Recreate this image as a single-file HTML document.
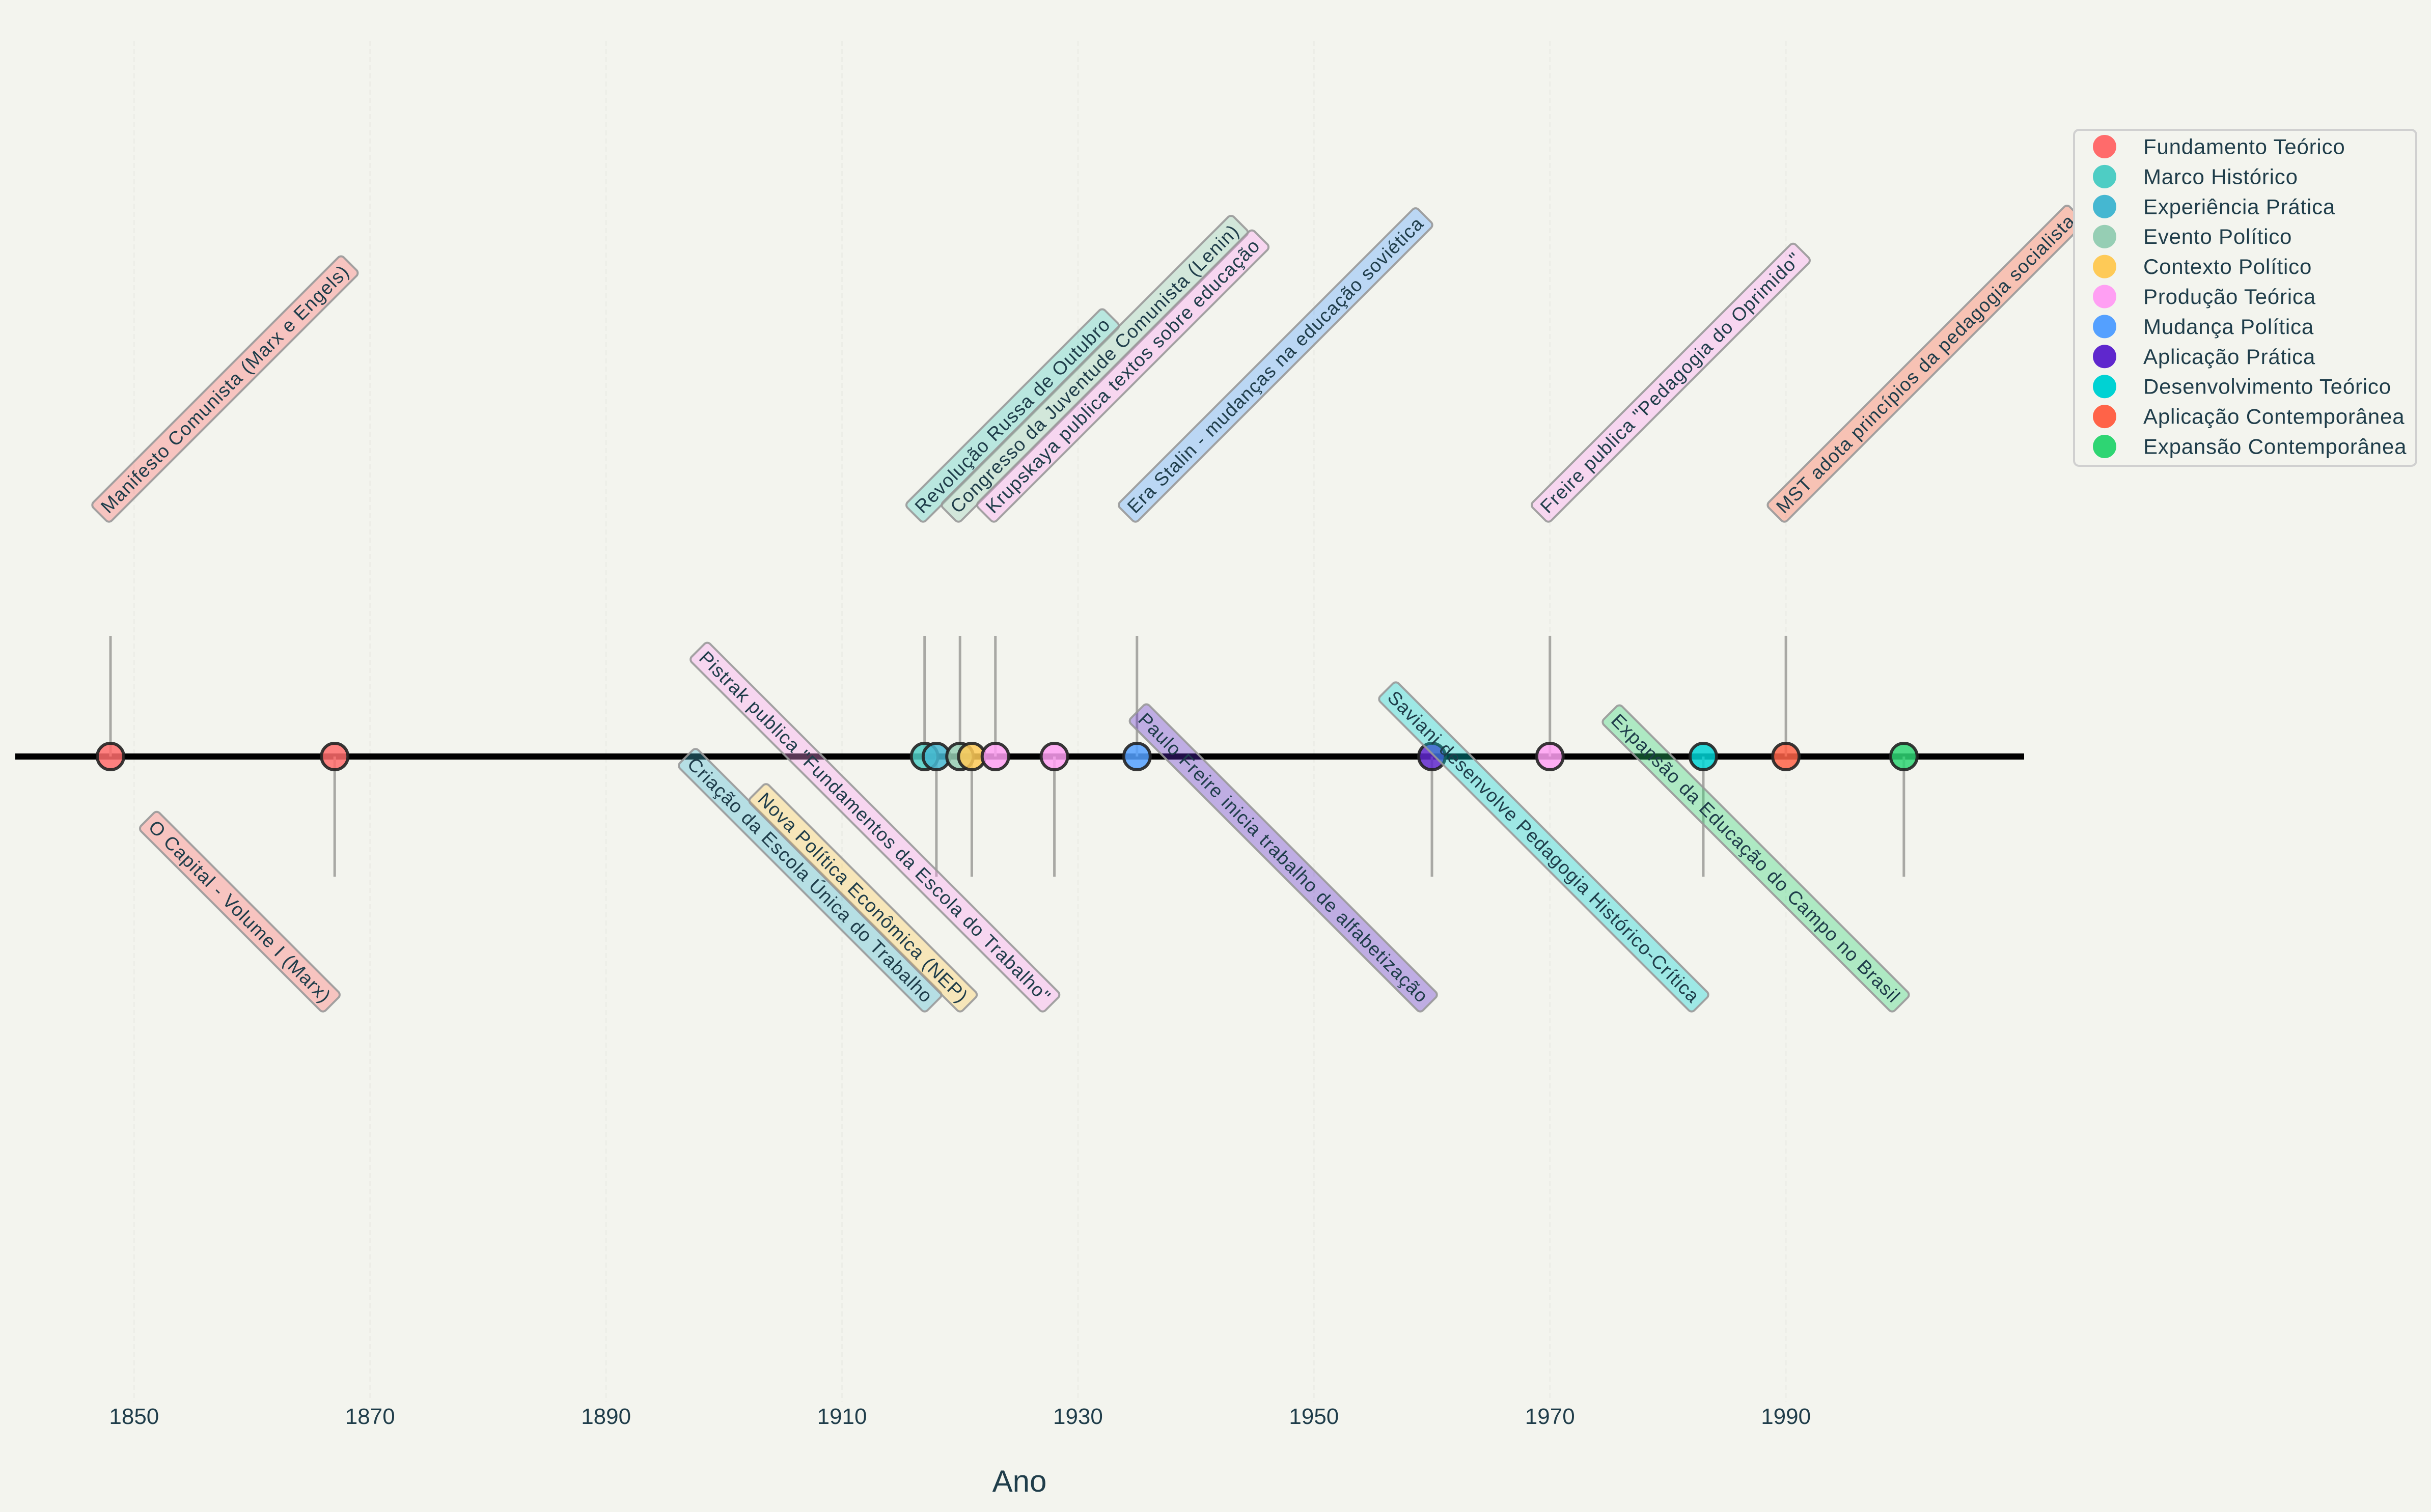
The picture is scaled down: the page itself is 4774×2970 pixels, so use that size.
<!DOCTYPE html>
<html><head><meta charset="utf-8"><style>
html,body{margin:0;padding:0;background:#f3f4ee;}
svg{display:block;font-family:"Liberation Sans",sans-serif;}
</style></head><body>
<svg id="chart" width="4774" height="2970" viewBox="0 0 4774 2970" xmlns="http://www.w3.org/2000/svg">
<rect width="4774" height="2970" fill="#f3f4ee"/>
<g id="grid"></g><g id="axis"></g><g id="stems"></g><g id="markers"></g><g id="labels"></g><g id="legend"></g>
</svg>
<script>
const years = [1848,1867,1917,1918,1920,1921,1923,1928,1935,1960,1970,1983,1990,2000];
const categories = ["Fundamento Teórico","Fundamento Teórico","Marco Histórico","Experiência Prática","Evento Político","Contexto Político","Produção Teórica","Produção Teórica","Mudança Política","Aplicação Prática","Produção Teórica","Desenvolvimento Teórico","Aplicação Contemporânea","Expansão Contemporânea"];
const eventLabels = ["Manifesto Comunista (Marx e Engels)","O Capital - Volume I (Marx)","Revolução Russa de Outubro","Criação da Escola Única do Trabalho","Congresso da Juventude Comunista (Lenin)","Nova Política Econômica (NEP)","Krupskaya publica textos sobre educação","Pistrak publica \"Fundamentos da Escola do Trabalho\"","Era Stalin - mudanças na educação soviética","Paulo Freire inicia trabalho de alfabetização","Freire publica \"Pedagogia do Oprimido\"","Saviani desenvolve Pedagogia Histórico-Crítica","MST adota princípios da pedagogia socialista","Expansão da Educação do Campo no Brasil"];
const sides = [1,-1,1,-1,1,-1,1,-1,1,-1,1,-1,1,-1];
const legendNames = ["Fundamento Teórico","Marco Histórico","Experiência Prática","Evento Político","Contexto Político","Produção Teórica","Mudança Política","Aplicação Prática","Desenvolvimento Teórico","Aplicação Contemporânea","Expansão Contemporânea"];
const legendColors = ["#ff6b6b","#4ecdc4","#45b7d1","#96ceb4","#feca57","#ff9ff3","#54a0ff","#5f27cd","#00d2d3","#ff6348","#2ed573"];
const tickYears = [1850,1870,1890,1910,1930,1950,1970,1990];

const NS="http://www.w3.org/2000/svg";
const TXT="#1f3d4a";
function X(y){return 217+(y-1848)*23.17;}
const AXY=1486;
function mk(tag,attrs,parent){const e=document.createElementNS(NS,tag);for(const k in attrs)e.setAttribute(k,attrs[k]);parent.appendChild(e);return e;}
function colorOf(c){return legendColors[legendNames.indexOf(c)];}
const grid=document.getElementById('grid'),axis=document.getElementById('axis'),stems=document.getElementById('stems'),markers=document.getElementById('markers'),labels=document.getElementById('labels'),legend=document.getElementById('legend');

tickYears.forEach(t=>{
  const l=mk('line',{x1:X(t),x2:X(t),y1:80,y2:2753,stroke:'#ecede7','stroke-width':3,'stroke-dasharray':'10,6'},grid);
  
  
  const tx=mk('text',{x:X(t),y:2797,'text-anchor':'middle','font-size':44,fill:TXT},axis);
  tx.textContent=t;
  
  
});
const at=mk('text',{x:2002,y:2930,'text-anchor':'middle','font-size':60,fill:TXT},axis);
at.textContent='Ano';


const tl=mk('line',{x1:30,x2:3975,y1:AXY,y2:AXY,stroke:'#000','stroke-width':12},axis);



years.forEach((yr,i)=>{
  const x=X(yr), col=colorOf(categories[i]);
  const s=mk('line',{x1:x,x2:x,y1:AXY,y2:sides[i]>0?1249:1722,stroke:'#a8a8a4','stroke-width':5},stems);
  
  
  const c=mk('circle',{cx:x,cy:AXY,r:26,fill:col,'fill-opacity':0.85,stroke:'#222','stroke-opacity':0.9,'stroke-width':6},markers);
  
  
  const g=mk('g',{},labels);
  
  
  const up=sides[i]>0;
  const ox=up?x-21:x-5, oy=up?1010:1972;
  g.setAttribute('transform','translate('+ox+','+oy+') rotate('+(up?-45:45)+')');
  const r=mk('rect',{y:-25.5,height:51,rx:8,fill:col,'fill-opacity':0.35,stroke:'#999','stroke-opacity':0.9,'stroke-width':4},g);
  const t=mk('text',{x:up?12:-12,y:0,'dominant-baseline':'central','text-anchor':up?'start':'end','font-size':37,'letter-spacing':1.5,fill:TXT},g);
  t.textContent=eventLabels[i];
  const w=t.getComputedTextLength()+24;
  r.setAttribute('x',up?0:-w);r.setAttribute('width',w);
});

const lb=mk('rect',{x:4073,y:255,width:672,height:660,rx:10,fill:'#f3f4ee',stroke:'#d0d0d0','stroke-width':4},legend);


legendNames.forEach((n,i)=>{
  const cy=288+i*58.9;
  const g=mk('g',{},legend);
  
  
  mk('circle',{cx:4133,cy:cy,r:23,fill:legendColors[i]},g);
  const t=mk('text',{x:4209,y:cy,'dominant-baseline':'central','font-size':42,'letter-spacing':0.8,fill:TXT},g);
  t.textContent=n;
});
</script>
</body></html>
